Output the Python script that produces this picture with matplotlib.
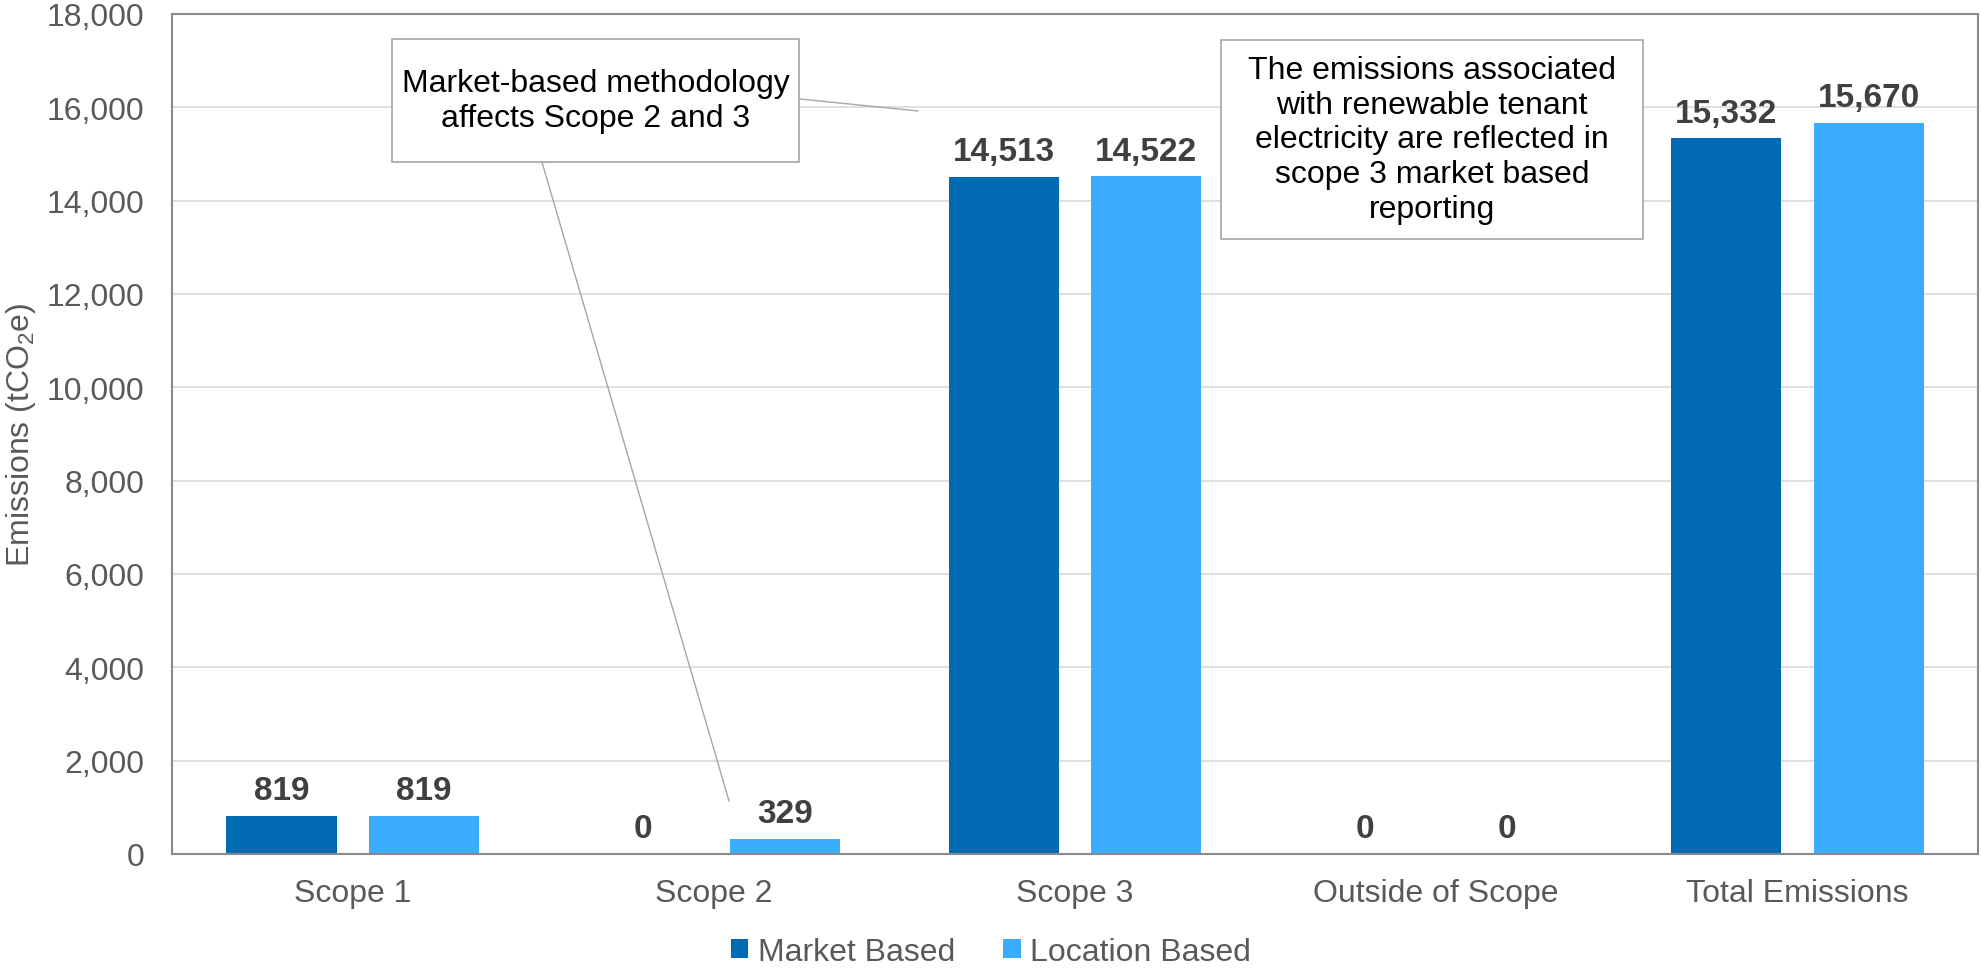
import numpy as np
import matplotlib.pyplot as plt
from matplotlib.patches import Rectangle

# Emissions by scope, market vs location based (tCO2e)
categories = ["Scope 1", "Scope 2", "Scope 3", "Outside of Scope", "Total Emissions"]
market_based = [819, 0, 14513, 0, 15332]
location_based = [819, 329, 14522, 0, 15670]
series_names = ["Market Based", "Location Based"]
y_ticks = [0, 2000, 4000, 6000, 8000, 10000, 12000, 14000, 16000, 18000]

note_left = "Market-based methodology\naffects Scope 2 and 3"
note_right = ("The emissions associated\nwith renewable tenant\nelectricity are reflected in\n"
              "scope 3 market based\nreporting")

dark_blue = "#006ab5"
light_blue = "#3badff"
label_grey = "#595959"
value_grey = "#404040"
callout_grey = "#a6a6a6"

plt.rcParams["font.family"] = ["Liberation Sans", "DejaVu Sans"]
plt.rcParams["mathtext.default"] = "regular"

fig = plt.figure(figsize=(19.82, 9.70), dpi=100)
ax = fig.add_axes([0.0868, 0.1186, 0.9112, 0.8660])

x = np.arange(len(categories))
width = 0.305
offset = 0.197
bars_m = ax.bar(x - offset, market_based, width, color=dark_blue, label=series_names[0], zorder=2)
bars_l = ax.bar(x + offset, location_based, width, color=light_blue, label=series_names[1], zorder=2)

# value labels above each bar
for bars, vals in [(bars_m, market_based), (bars_l, location_based)]:
    for b, v in zip(bars, vals):
        ax.annotate(f"{v:,}", (b.get_x() + b.get_width() / 2, v), xytext=(0, 7),
                    textcoords="offset points", ha="center", va="bottom",
                    fontsize=24, fontweight="bold", color=value_grey, zorder=3)

ax.set_xlim(-0.5, len(categories) - 0.5)
ax.set_ylim(0, 18000)
ax.set_yticks(y_ticks)
ax.yaxis.set_major_formatter(plt.FuncFormatter(lambda v, p: f"{int(v):,}"))
ax.set_xticks(x)
ax.set_xticklabels(categories)
ax.tick_params(axis="both", length=0, labelsize=23, labelcolor=label_grey)
ax.tick_params(axis="y", pad=20)
ax.tick_params(axis="x", pad=17)
ax.grid(axis="y", color="#d9d9d9", linewidth=1.2, zorder=0)
ax.set_axisbelow(True)
for s in ax.spines.values():
    s.set_color("#898989")
    s.set_linewidth(1.5)

ax.set_ylabel("Emissions (tCO$_2$e)", fontsize=23, color=label_grey)
ax.yaxis.set_label_coords(-0.074, 0.5)

# callout leader lines
ax.plot([1.236, 1.565], [16179, 15921], color=callout_grey, linewidth=1, zorder=4)
ax.plot([0.524, 1.042], [14829, 1136], color=callout_grey, linewidth=1, zorder=4)

# callout boxes (x0, x1, y0, y1 in data units) with centred text
for (x0, x1, y0, y1), note in [((0.109, 1.236, 14829, 17464), note_left),
                               ((2.404, 3.573, 13179, 17443), note_right)]:
    ax.add_patch(Rectangle((x0, y0), x1 - x0, y1 - y0, facecolor="white",
                           edgecolor=callout_grey, linewidth=1.2, zorder=5))
    ax.text((x0 + x1) / 2, (y0 + y1) / 2, note, ha="center", va="center", fontsize=23,
            color="black", zorder=6, linespacing=1.2)

fig.legend(loc="center", bbox_to_anchor=(0.5, 0.0175), ncol=2, frameon=False, fontsize=23,
           handlelength=0.55, handleheight=0.55, handletextpad=0.3, columnspacing=1.5,
           labelcolor=label_grey)

fig.savefig("out.png", dpi=100)
